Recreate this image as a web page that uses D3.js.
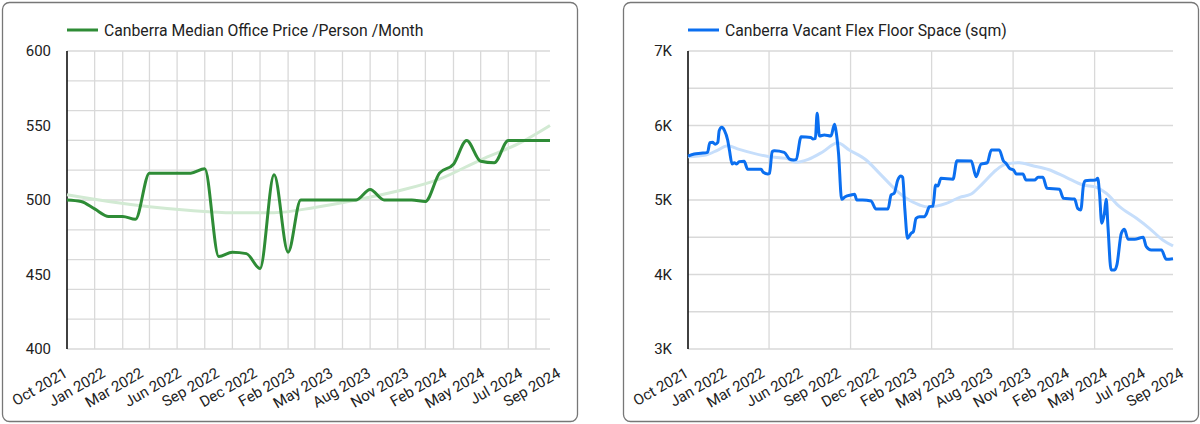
<!DOCTYPE html>
<html lang="en">
<head>
    <meta charset="UTF-8">
    <title>Canberra office charts</title>
    <script src="https://cdnjs.cloudflare.com/ajax/libs/d3/7.8.5/d3.min.js"></script>
    <style>
        body { margin: 0; background: #fff; }
        svg text { font-family: Roboto, "Noto Sans", sans-serif; fill: #222; }
    </style>
</head>
<body>
    <div id="wrapper"></div>
    <script>
        // x axis labels (both charts use the same ones)
        const monthLabels = ['Oct 2021', 'Jan 2022', 'Mar 2022', 'Jun 2022', 'Sep 2022', 'Dec 2022', 'Feb 2023',
            'May 2023', 'Aug 2023', 'Nov 2023', 'Feb 2024', 'May 2024', 'Jul 2024', 'Sep 2024']

        // left chart - median office price per person per month
        const priceMonths = ['2021-10', '2021-11', '2021-12', '2022-01', '2022-02', '2022-03', '2022-04', '2022-05',
            '2022-06', '2022-07', '2022-08', '2022-09', '2022-10', '2022-11', '2022-12', '2023-01', '2023-02', '2023-03',
            '2023-04', '2023-05', '2023-06', '2023-07', '2023-08', '2023-09', '2023-10', '2023-11', '2023-12', '2024-01',
            '2024-02', '2024-03', '2024-04', '2024-05', '2024-06', '2024-07', '2024-08', '2024-09']
        const priceValues = [500, 499, 494, 489, 489, 487, 518, 518, 518, 518, 521, 462, 465, 464, 454, 517, 465, 500,
            500, 500, 500, 500, 507, 500, 500, 500, 499, 518, 524, 540, 526, 525, 540, 540, 540, 540]
        const priceTrendMonths = ['2021-10', '2022-01', '2022-04', '2022-07', '2022-10', '2023-01', '2023-04',
            '2023-07', '2023-10', '2024-01', '2024-04', '2024-07', '2024-09']
        const priceTrendValues = [503.5, 499, 495.5, 493, 491.5, 491.5, 495, 500, 506, 514, 527, 539, 550]
        const priceYTicks = [400, 450, 500, 550, 600]

        // right chart - vacant flex floor space
        const flexDates = [
            '2021-10-01', '2021-10-15', '2021-10-30', '2021-11-14', '2021-11-19', '2021-11-25', '2021-12-01', '2021-12-07', '2021-12-10', '2021-12-16',
            '2021-12-22', '2021-12-29', '2022-01-02', '2022-01-08', '2022-01-13', '2022-01-18', '2022-01-24', '2022-02-04', '2022-02-12', '2022-03-14',
            '2022-03-19', '2022-03-29', '2022-04-02', '2022-04-08', '2022-04-13', '2022-05-05', '2022-05-17', '2022-05-26', '2022-06-01', '2022-06-12',
            '2022-07-04', '2022-07-08', '2022-07-14', '2022-07-18', '2022-07-23', '2022-08-03', '2022-08-18', '2022-08-26', '2022-08-29', '2022-09-04',
            '2022-09-11', '2022-09-19', '2022-10-02', '2022-10-10', '2022-10-15', '2022-10-28', '2022-11-16', '2022-11-27', '2022-12-24', '2022-12-31',
            '2023-01-07', '2023-01-15', '2023-01-22', '2023-01-26', '2023-01-31', '2023-02-06', '2023-02-14', '2023-02-19', '2023-02-25', '2023-03-05',
            '2023-03-16', '2023-03-20', '2023-03-27', '2023-04-04', '2023-04-10', '2023-04-15', '2023-04-22', '2023-05-19', '2023-05-28', '2023-06-29',
            '2023-07-10', '2023-07-21', '2023-08-04', '2023-08-13', '2023-08-31', '2023-09-09', '2023-09-15', '2023-09-23', '2023-10-02', '2023-10-08',
            '2023-10-23', '2023-10-30', '2023-11-18', '2023-11-26', '2023-12-07', '2023-12-16', '2024-01-13', '2024-01-22', '2024-02-16', '2024-02-23',
            '2024-03-01', '2024-03-07', '2024-03-11', '2024-04-03', '2024-04-08', '2024-04-12', '2024-04-17', '2024-04-23', '2024-04-27', '2024-05-01',
            '2024-05-08', '2024-05-16', '2024-05-21', '2024-05-31', '2024-06-07', '2024-06-15', '2024-06-30', '2024-07-19', '2024-07-26', '2024-08-06',
            '2024-08-29', '2024-09-09', '2024-09-24']
        const flexValues = [
            5590, 5617, 5627, 5640, 5770, 5775, 5750, 5775, 5930, 5975,
            5930, 5805, 5670, 5483, 5500, 5483, 5515, 5520, 5412, 5412,
            5372, 5349, 5358, 5648, 5661, 5640, 5550, 5537, 5546, 5850,
            5840, 5819, 5828, 6163, 5859, 5872, 5859, 6016, 5940, 5627,
            5009, 5044, 5067, 5076, 5000, 5000, 4987, 4879, 4879, 5067,
            5090, 5268, 5322, 5304, 4866, 4486, 4553, 4575, 4754, 4776,
            4776, 4810, 4910, 4919, 5201, 5188, 5291, 5278, 5528, 5523,
            5313, 5483, 5500, 5671, 5671, 5528, 5492, 5425, 5403, 5349,
            5349, 5268, 5268, 5304, 5304, 5157, 5143, 5022, 5013, 4888,
            4866, 5201, 5259, 5268, 5291, 5090, 4687, 4821, 5009, 4642,
            4060, 4060, 4128, 4553, 4607, 4473, 4473, 4500, 4373, 4329,
            4329, 4204, 4212]
        const flexTrendDates = ['2021-10-01', '2021-11-10', '2021-12-07', '2021-12-29', '2022-01-24', '2022-04-02',
            '2022-05-09', '2022-06-01', '2022-06-28', '2022-07-31', '2022-09-02', '2022-09-28', '2022-11-05', '2022-12-05',
            '2023-01-11', '2023-02-03', '2023-03-05', '2023-03-24', '2023-05-04', '2023-06-03', '2023-06-29', '2023-07-25',
            '2023-08-24', '2023-09-15', '2023-10-15', '2023-11-14', '2023-12-19', '2024-01-28', '2024-03-06', '2024-04-05',
            '2024-04-27', '2024-05-27', '2024-07-04', '2024-08-02', '2024-09-01', '2024-09-24']
        const flexTrendValues = [5581, 5604, 5671, 5729, 5680, 5581, 5559, 5506, 5545, 5648, 5769, 5671, 5537, 5358,
            5134, 5022, 4933, 4905, 4955, 5036, 5081, 5224, 5403, 5483, 5500, 5460, 5410, 5304, 5201, 5170,
            5090, 4910, 4754, 4620, 4463, 4383]
        const flexYTicks = [3000, 4000, 5000, 6000, 7000]

        const parseMonth = d3.timeParse('%Y-%m')
        const parseDay = d3.timeParse('%Y-%m-%d')

        const svg = d3.select('#wrapper')
            .append('svg')
                .attr('width', 1200)
                .attr('height', 424)

        function drawChart(cfg) {
            const dimensions = {
                width: 575,
                height: 419,
                margin: { top: 49, left: 65 },
                boundedWidth: cfg.plotWidth,
                boundedHeight: 298,
            }

            const panel = svg.append('g')
                .attr('transform', `translate(${cfg.x}, 2)`)

            panel.append('rect')
                .attr('x', 0.5)
                .attr('y', 0.5)
                .attr('width', dimensions.width)
                .attr('height', dimensions.height)
                .attr('rx', 7)
                .attr('fill', '#fff')
                .attr('stroke', '#777')
                .attr('stroke-width', 1.3)

            const bounds = panel.append('g')
                .attr('transform', `translate(${dimensions.margin.left}, ${dimensions.margin.top})`)

            // scales
            const data = cfg.dates.map((d, i) => ({ date: d, value: cfg.values[i] }))
            const trend = cfg.trendDates.map((d, i) => ({ date: d, value: cfg.trendValues[i] }))

            const xScale = d3.scaleTime()
                .domain(d3.extent(data, d => d.date))
                .range([0, dimensions.boundedWidth])
            const yScale = d3.scaleLinear()
                .domain(d3.extent(cfg.yTicks))
                .range([dimensions.boundedHeight, 0])
            // labels are spread evenly, slightly wider than the plot
            const labelScale = d3.scalePoint()
                .domain(monthLabels)
                .range([1, dimensions.boundedWidth + 11])

            // grid
            const grid = bounds.append('g')
                .attr('stroke', '#d9d9d9')
                .attr('stroke-width', 1.3)
            grid.selectAll('.h')
                .data(yScale.ticks(8))
                .join('line')
                    .attr('x1', 0)
                    .attr('x2', dimensions.boundedWidth)
                    .attr('y1', d => yScale(d))
                    .attr('y2', d => yScale(d))
            grid.selectAll('.v')
                .data(d3.timeMonth.range(xScale.domain()[0], xScale.domain()[1], cfg.gridStep).slice(1))
                .join('line')
                    .attr('x1', d => xScale(d))
                    .attr('x2', d => xScale(d))
                    .attr('y1', 0)
                    .attr('y2', dimensions.boundedHeight)

            // y axis
            const yAxis = bounds.append('g')
                .call(d3.axisLeft(yScale).tickValues(cfg.yTicks).tickFormat(cfg.yFormat).tickSize(0).tickPadding(16))
            yAxis.select('.domain').remove()
            yAxis.selectAll('text')
                .attr('font-size', 15)
                .attr('fill', '#222')

            bounds.append('line')
                .attr('x1', 0)
                .attr('x2', 0)
                .attr('y1', 0)
                .attr('y2', dimensions.boundedHeight)
                .attr('stroke', '#111')
                .attr('stroke-width', 1.6)

            // x axis labels
            const xAxis = bounds.append('g')
                .attr('transform', `translate(0, ${dimensions.boundedHeight})`)
                .call(d3.axisBottom(labelScale).tickSize(0))
            xAxis.select('.domain').remove()
            xAxis.selectAll('text')
                .attr('font-size', 15)
                .attr('fill', '#222')
                .attr('text-anchor', 'end')
                .attr('y', 0)
                .attr('dy', 0)
                .attr('transform', 'translate(0, 27) rotate(-30)')

            // lines
            const lineGenerator = d3.line()
                .x(d => xScale(d.date))
                .y(d => yScale(d.value))
                .curve(d3.curveMonotoneX)

            bounds.append('path')
                .attr('d', lineGenerator(trend))
                .attr('fill', 'none')
                .attr('stroke', cfg.trendColor)
                .attr('stroke-width', 3)

            bounds.append('path')
                .attr('d', lineGenerator(data))
                .attr('fill', 'none')
                .attr('stroke', cfg.color)
                .attr('stroke-width', 3)
                .attr('stroke-linejoin', 'round')

            // legend
            const legend = bounds.append('g')
                .attr('transform', 'translate(0, -21)')
            legend.append('line')
                .attr('x1', 0)
                .attr('x2', 31)
                .attr('stroke', cfg.color)
                .attr('stroke-width', 3)
            legend.append('text')
                .attr('x', 37)
                .attr('dy', '0.36em')
                .attr('font-size', 15.75)
                .text(cfg.title)
        }

        drawChart({
            x: 2,
            plotWidth: 483,
            title: 'Canberra Median Office Price /Person /Month',
            dates: priceMonths.map(parseMonth),
            values: priceValues,
            trendDates: priceTrendMonths.map(parseMonth),
            trendValues: priceTrendValues,
            yTicks: priceYTicks,
            yFormat: d => d,
            gridStep: 2,
            color: '#2e8c36',
            trendColor: '#d2ead3',
        })

        drawChart({
            x: 623,
            plotWidth: 485,
            title: 'Canberra Vacant Flex Floor Space (sqm)',
            dates: flexDates.map(parseDay),
            values: flexValues,
            trendDates: flexTrendDates.map(parseDay),
            trendValues: flexTrendValues,
            yTicks: flexYTicks,
            yFormat: d => d / 1000 + 'K',
            gridStep: 6,
            color: '#0b6ff0',
            trendColor: '#c6defb',
        })
    </script>
</body>
</html>
